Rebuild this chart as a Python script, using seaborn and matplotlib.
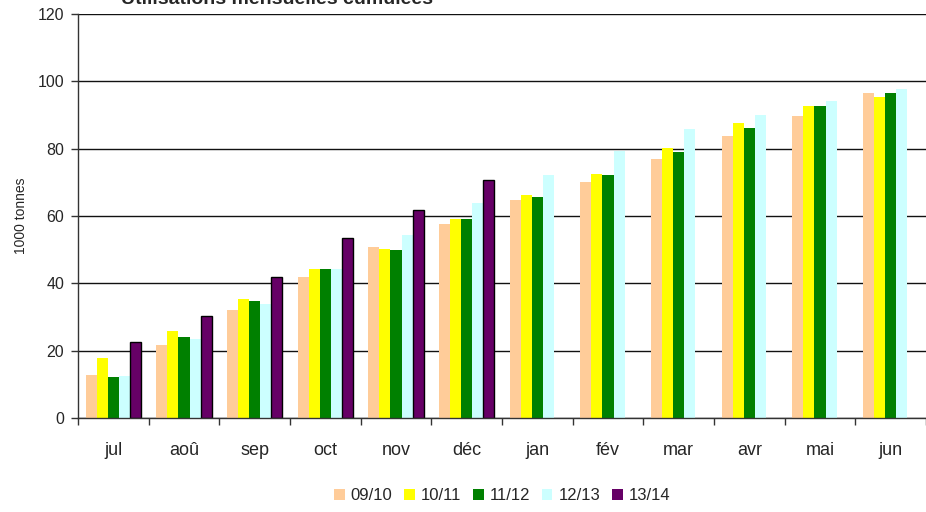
import matplotlib
matplotlib.use("Agg")
import matplotlib.pyplot as plt
import numpy as np
import pandas as pd
import seaborn as sns

months = ["jul", "aoû", "sep", "oct", "nov", "déc",
          "jan", "fév", "mar", "avr", "mai", "jun"]
seasons = ["09/10", "10/11", "11/12", "12/13", "13/14"]
colors = ["#FFCC99", "#FFFF00", "#008000", "#CCFFFF", "#660066"]

s0910 = [12.8, 21.7, 32.0, 42.0, 50.7, 57.5, 64.8, 70.2, 77.0, 83.8, 89.8, 96.6]
s1011 = [17.8, 25.9, 35.3, 44.4, 50.3, 59.0, 66.3, 72.6, 80.3, 87.7, 92.8, 95.4]
s1112 = [12.1, 24.2, 34.8, 44.4, 50.0, 59.0, 65.7, 72.3, 79.1, 86.2, 92.8, 96.6]
s1213 = [12.4, 23.5, 34.0, 44.4, 54.5, 63.9, 72.3, 79.3, 85.9, 90.1, 94.3, 97.8]
s1314 = [22.5, 30.2, 41.8, 53.6, 61.9, 70.7] + [np.nan] * 6

series = [s0910, s1011, s1112, s1213, s1314]
rows = []
for season, vals in zip(seasons, series):
    for m, v in zip(months, vals):
        rows.append({"mois": m, "saison": season, "valeur": v})
df = pd.DataFrame(rows)

sns.set_theme(style="white")
plt.rcParams["font.family"] = ["Liberation Sans", "DejaVu Sans"]

fig = plt.figure(figsize=(9.26, 5.12), dpi=100)
ax = fig.add_axes([78 / 926, 94 / 512, 1 - 78 / 926, 404 / 512])

sns.barplot(data=df, x="mois", y="valeur", hue="saison", order=months,
            hue_order=seasons, palette=colors, width=0.78, gap=0,
            saturation=1, linewidth=0, ax=ax, legend=True)

# only the current season gets a black outline
for bar in ax.containers[4]:
    bar.set_edgecolor("black")
    bar.set_linewidth(1.0)

ax.set_xlim(-0.5, 11.5)
ax.set_ylim(0, 120)
ax.set_yticks(range(0, 121, 20))
ax.set_axisbelow(True)
ax.yaxis.grid(True, color="#111111", linewidth=1)
ax.xaxis.grid(False)

for side in ["top", "right"]:
    ax.spines[side].set_visible(False)
for side in ["left", "bottom"]:
    ax.spines[side].set_color("#333333")
    ax.spines[side].set_linewidth(1)

ax.set_xticks(np.arange(-0.5, 12, 1), minor=True)
ax.tick_params(axis="x", which="major", length=0, labelsize=13, pad=17)
ax.tick_params(axis="x", which="minor", length=5, width=1, color="#333333",
               direction="out", bottom=True)
ax.tick_params(axis="y", length=5, width=1, color="#333333", direction="out",
               left=True, labelsize=11.5, pad=5)

ax.set_xlabel("")
ax.set_ylabel("1000 tonnes", fontsize=10, labelpad=7)

handles, labels = ax.get_legend_handles_labels()
ax.get_legend().remove()
fig.legend(handles, labels, loc="center", ncol=5,
           bbox_to_anchor=(502 / 926, 1 - 496 / 512), frameon=False,
           handlelength=0.65, handleheight=0.65, handletextpad=0.35,
           columnspacing=0.7, fontsize=12)

fig.text(277 / 926, 1 - 4 / 512, "Utilisations mensuelles cumulées",
         ha="center", va="baseline", fontsize=14, fontweight="bold")

fig.savefig("out.png", dpi=100)
